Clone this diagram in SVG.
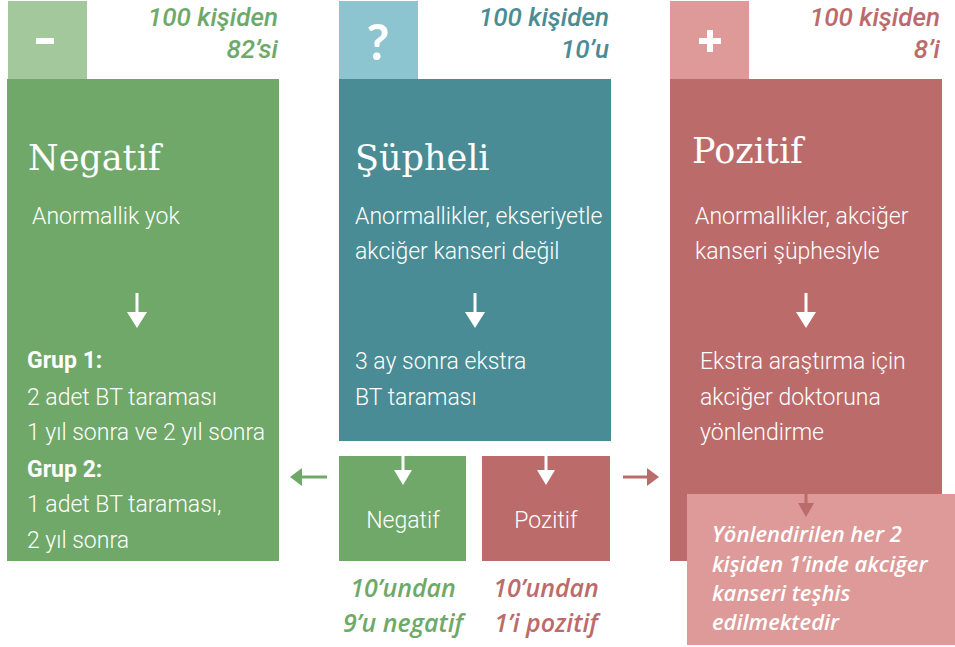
<svg xmlns="http://www.w3.org/2000/svg" width="955" height="647" viewBox="0 0 955 647">
<defs>
<style>
.title{font-family:"DejaVu Serif","Liberation Serif",serif;font-size:35px;fill:#fff;font-weight:300}
.body{font-family:Roboto,"Liberation Sans",sans-serif;font-size:23px;fill:#fff;font-weight:300}
.bold{font-weight:bold}
.hdr{font-family:Roboto,"Liberation Sans",sans-serif;font-size:26px;font-style:italic;font-weight:500;text-anchor:end}
.foot{font-family:"Open Sans","Liberation Sans",sans-serif;font-size:25px;font-style:italic;font-weight:600;text-anchor:middle}
.call{font-family:"Open Sans","Liberation Sans",sans-serif;font-size:22px;font-style:italic;font-weight:600;fill:#fff}
.small{font-family:Roboto,"Liberation Sans",sans-serif;font-size:23px;fill:#fff;text-anchor:middle;font-weight:300}
.wa{stroke:#fff;stroke-width:3;fill:none}
</style>
</defs>

<g id="negatif">
<rect x="8" y="1" width="79" height="79" fill="#a2c89b"/>
<rect x="36" y="38" width="18" height="6" fill="#fff"/>
<text class="hdr" x="278" y="26" fill="#6fa96a">100 kişiden</text>
<text class="hdr" x="278" y="58" fill="#6fa96a">82’si</text>
<rect x="7" y="79" width="272" height="482" fill="#70a86a"/>
<text class="title" x="28" y="170">Negatif</text>
<text class="body" x="32" y="224">Anormallik yok</text>
<path d="M137,293 V314" class="wa"/><path d="M127,312 L147,312 L137,328 Z" fill="#fff"/>
<text class="body bold" x="27" y="368">Grup 1:</text>
<text class="body" x="27" y="405">2 adet BT taraması</text>
<text class="body" x="27" y="440">1 yıl sonra ve 2 yıl sonra</text>
<text class="body bold" x="27" y="477">Grup 2:</text>
<text class="body" x="27" y="512">1 adet BT taraması,</text>
<text class="body" x="27" y="548">2 yıl sonra</text>
</g>

<g id="supheli">
<rect x="339" y="1" width="79" height="79" fill="#8cc4cf"/>
<text x="378" y="60" font-family="Lato,'Liberation Sans',sans-serif" font-size="50" font-weight="bold" fill="#fff" text-anchor="middle">?</text>
<text class="hdr" x="609" y="26" fill="#4a8c95">100 kişiden</text>
<text class="hdr" x="609" y="58" fill="#4a8c95">10’u</text>
<rect x="339" y="79" width="272" height="362" fill="#4a8c95"/>
<text class="title" x="355" y="170">Şüpheli</text>
<text class="body" x="355" y="224">Anormallikler, ekseriyetle</text>
<text class="body" x="355" y="259">akciğer kanseri değil</text>
<path d="M475,293 V314" class="wa"/><path d="M465,312 L485,312 L475,328 Z" fill="#fff"/>
<text class="body" x="355" y="369">3 ay sonra ekstra</text>
<text class="body" x="355" y="405">BT taraması</text>
</g>

<g id="pozitif">
<rect x="670" y="1" width="79" height="79" fill="#dd9a98"/>
<rect x="699" y="38" width="22" height="6" fill="#fff"/>
<rect x="707" y="30" width="6" height="22" fill="#fff"/>
<text class="hdr" x="940" y="26" fill="#bc6b6b">100 kişiden</text>
<text class="hdr" x="940" y="58" fill="#bc6b6b">8’i</text>
<rect x="670" y="79" width="272" height="482" fill="#bc6b6b"/>
<text class="title" x="692" y="163">Pozitif</text>
<text class="body" x="695" y="224">Anormallikler, akciğer</text>
<text class="body" x="695" y="259">kanseri şüphesiyle</text>
<path d="M806,293 V314" class="wa"/><path d="M796,312 L816,312 L806,328 Z" fill="#fff"/>
<text class="body" x="700" y="369">Ekstra araştırma için</text>
<text class="body" x="700" y="405">akciğer doktoruna</text>
<text class="body" x="700" y="440">yönlendirme</text>
</g>

<g id="callout">
<rect x="687" y="494" width="268" height="151" fill="#dd9a98"/>
<text class="call" x="712" y="542">Yönlendirilen her 2</text>
<text class="call" x="712" y="572">kişiden 1’inde akciğer</text>
<text class="call" x="712" y="601">kanseri teşhis</text>
<text class="call" x="712" y="630">edilmektedir</text>
</g>

<g id="sub-negatif">
<rect x="339" y="456" width="127" height="105" fill="#70a86a"/>
<text class="small" x="403" y="528">Negatif</text>
<text class="foot" x="403" y="597" fill="#6fa96a">10’undan</text>
<text class="foot" x="403" y="632" fill="#6fa96a">9’u negatif</text>
</g>

<g id="sub-pozitif">
<rect x="482" y="456" width="128" height="105" fill="#bc6b6b"/>
<text class="small" x="546" y="528">Pozitif</text>
<text class="foot" x="546" y="597" fill="#bc6b6b">10’undan</text>
<text class="foot" x="546" y="632" fill="#bc6b6b">1’i pozitif</text>
</g>

<g id="connectors">
<path d="M403,456 V472" class="wa"/><path d="M394,470 L412,470 L403,485 Z" fill="#fff"/>
<path d="M546,456 V472" class="wa"/><path d="M537,470 L555,470 L546,485 Z" fill="#fff"/>
<path d="M327,477 H300" stroke="#70a86a" stroke-width="3"/><path d="M290,477 L302,468 L302,486 Z" fill="#70a86a"/>
<path d="M623,477 H650" stroke="#bc6b6b" stroke-width="3"/><path d="M659,477 L647,468 L647,486 Z" fill="#bc6b6b"/>
<path d="M806,480 V505" stroke="#bc6b6b" stroke-width="3"/><path d="M798,503 L814,503 L806,517 Z" fill="#bc6b6b"/>
</g>
</svg>
